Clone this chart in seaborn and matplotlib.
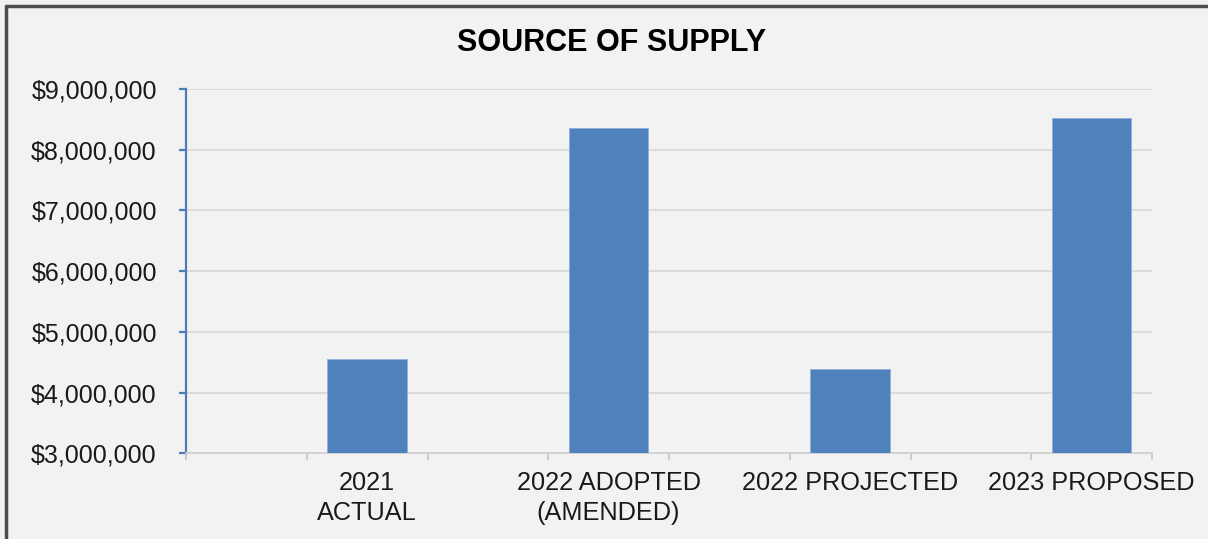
import matplotlib
matplotlib.use("Agg")
import matplotlib.pyplot as plt
from matplotlib.ticker import FuncFormatter, FixedLocator
from matplotlib.lines import Line2D
import seaborn as sns
import pandas as pd

# ---- data ----
categories = ["2021\nACTUAL", "2022 ADOPTED\n(AMENDED)", "2022 PROJECTED", "2023 PROPOSED"]
values = [4550000, 8360000, 4390000, 8520000]
y_ticks = [3000000, 4000000, 5000000, 6000000, 7000000, 8000000, 9000000]
title = "SOURCE OF SUPPLY"

# Excel-style layout: an empty slot before each category
slots = []
for i, c in enumerate(categories):
    slots.append(f"_gap{i}")
    slots.append(c)
df = pd.DataFrame({"cat": categories, "val": values})

sns.set_theme(style="white")
plt.rcParams["font.family"] = ["Liberation Sans", "DejaVu Sans"]

BG = "#f2f2f2"
fig = plt.figure(figsize=(12.08, 5.39), dpi=100, facecolor=BG)
ax = fig.add_axes([186 / 1208, 1 - 453.3 / 539, (1152 - 186) / 1208, (453.3 - 89) / 539])
ax.set_facecolor(BG)

sns.barplot(data=df, x="cat", y="val", order=slots, color="#4F81BD",
            saturation=1, width=0.66, ax=ax, zorder=3,
            edgecolor="#8fb0d9", linewidth=0.6)

ax.set_ylim(y_ticks[0], y_ticks[-1])
ax.set_xlim(-0.5, len(slots) - 0.5)
ax.set_yticks(y_ticks)
ax.yaxis.set_major_formatter(FuncFormatter(lambda v, p: f"${v:,.0f}"))
ax.grid(axis="y", color="#d9d9d9", linewidth=1.3, zorder=0)
ax.set_axisbelow(True)

# x ticks: labels at bar centres, tick marks at slot boundaries
ax.set_xticks([slots.index(c) for c in categories])
ax.set_xticklabels(categories, fontsize=18.2, color="#1a1a1a", linespacing=1.3)
ax.xaxis.set_minor_locator(FixedLocator([i - 0.5 for i in range(len(slots) + 1)]))
ax.tick_params(axis="x", which="major", length=0, pad=13)
ax.tick_params(axis="x", which="minor", length=5, width=1.3, color="#c8c8c8", bottom=True)
ax.tick_params(axis="y", which="major", length=5, width=1.6, color="#4a7ebb",
               labelsize=18, labelcolor="#1a1a1a", pad=16, left=True)

for s in ["top", "right"]:
    ax.spines[s].set_visible(False)
ax.spines["left"].set_color("#4a7ebb")
ax.spines["left"].set_linewidth(1.6)
ax.spines["bottom"].set_color("#d0d0d0")
ax.spines["bottom"].set_linewidth(1.3)
ax.set_xlabel("")
ax.set_ylabel("")

fig.text(612 / 1208, 1 - 43 / 539, title, ha="center", va="center",
         fontsize=22, fontweight="bold", color="black")

# outer frame (top and left edges visible in the crop)
fig.add_artist(Line2D([6 / 1208, 1], [1 - 6 / 539, 1 - 6 / 539], transform=fig.transFigure,
                      color="#4d4d4d", linewidth=2.5))
fig.add_artist(Line2D([6 / 1208, 6 / 1208], [0, 1 - 6 / 539], transform=fig.transFigure,
                      color="#4d4d4d", linewidth=2.5))

fig.savefig("out.png", dpi=100, facecolor=BG)
